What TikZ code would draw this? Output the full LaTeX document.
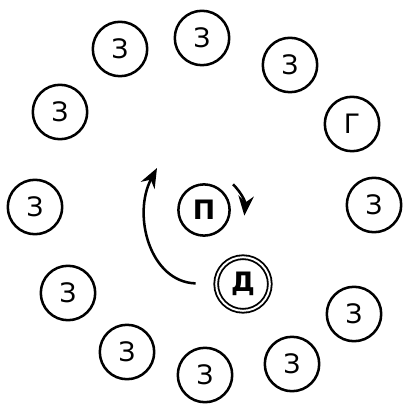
\documentclass[tikz,border=0pt]{standalone}
\usepackage{fontspec}
\setmainfont{DejaVu Sans}
\usepackage{tikz}
\usetikzlibrary{positioning,arrows.meta,calc}

\begin{document}
\begin{tikzpicture}[
    x=0.025cm, y=-0.025cm,
    font=\fontsize{19}{22}\selectfont,
    letter_ring/.style={draw, circle, line width=1.8pt, minimum size=1.36cm, inner sep=0pt},
    guard_ring/.style={letter_ring},
    main_ring/.style={letter_ring, minimum size=1.28cm, font=\fontsize{19}{22}\selectfont\bfseries},
    deal_ring/.style={letter_ring, double=white, double distance=1.4pt, line width=1.3pt, minimum size=1.34cm, font=\fontsize{19}{22}\selectfont\bfseries},
    arrow/.style={-{Stealth[length=14pt,width=11pt]}, line width=1.8pt}
]
\useasboundingbox (0,0) rectangle (405,405);

% outer ring of players
\node (z1)  [guard_ring] at (120,49)  {З};
\node (z2)  [guard_ring] at (202,38)  {З};
\node (z3)  [guard_ring] at (290,65)  {З};
\node (g)   [guard_ring] at (352,124) {Г};
\node (z4)  [guard_ring] at (374,205) {З};
\node (z5)  [guard_ring] at (354,314) {З};
\node (z6)  [guard_ring] at (292,364) {З};
\node (z7)  [guard_ring] at (205,375) {З};
\node (z8)  [guard_ring] at (127,352) {З};
\node (z9)  [guard_ring] at (68,293)  {З};
\node (z10) [guard_ring] at (35,207)  {З};
\node (z11) [guard_ring] at (60,112)  {З};

% centre
\node (p) [main_ring] at (204,210) {П};
\node (d) [deal_ring] at (243,284) {Д};

\coordinate (turn_end) at (157,168);

\draw [arrow, shorten <=14pt] (d.west) .. controls (150,282) and (132,215) .. (turn_end);
\draw [arrow] ([xshift=6pt,yshift=6pt]p.40) to[bend left=25] ([xshift=10pt]p.-12);

\end{tikzpicture}
\end{document}
